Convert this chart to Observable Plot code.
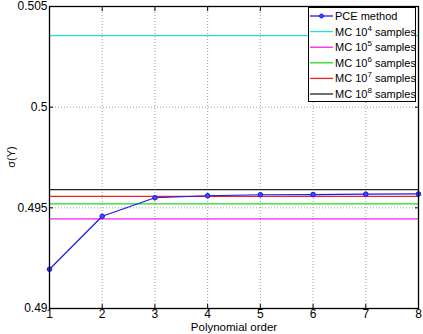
<!DOCTYPE html>
<html><head><meta charset="utf-8">
<script src="https://cdn.jsdelivr.net/npm/d3@7"></script>
<script src="https://cdn.jsdelivr.net/npm/@observablehq/plot@0.6"></script>
<style>body{margin:0;background:#fff;} svg{font-family:"Liberation Sans",Arial,sans-serif;}</style>
</head><body><div id="chart"></div>
<script>
const orders = [1, 2, 3, 4, 5, 6, 7, 8];
const pce = [0.49195, 0.49458, 0.49550, 0.49560, 0.49565, 0.49566, 0.49568, 0.49569];
const mcExponents = [4, 5, 6, 7, 8];
const mcValues = [0.50355, 0.49445, 0.49520, 0.49557, 0.49590];
const mcColors = ["#22e0e0", "#ee22ee", "#22dd22", "#ee2222", "#222222"];
const yTicks = [0.49, 0.495, 0.5, 0.505];
const yTickLabels = ["0.49", "0.495", "0.5", "0.505"];
const xTicks = [1, 2, 3, 4, 5, 6, 7, 8];

const pceData = orders.map((o, i) => ({order: o, sigma: pce[i]}));
const mcData = mcExponents.map((e, i) => ({exp: e, sigma: mcValues[i], color: mcColors[i]}));
const mcLines = mcData.flatMap(d => [{...d, order: orders[0]}, {...d, order: orders[orders.length - 1]}]);

const plot = Plot.plot({
  width: 423, height: 334,
  marginLeft: 49, marginRight: 5, marginTop: 6, marginBottom: 26,
  style: {fontSize: "11px", fontFamily: "Liberation Sans, Arial, sans-serif", color: "#000", background: "#fff"},
  x: {domain: [1, 8], ticks: xTicks},
  y: {domain: [0.49, 0.505], ticks: yTicks},
  marks: [
    Plot.gridX(xTicks, {stroke: "#888", strokeOpacity: 1, strokeDasharray: "1,2", strokeWidth: 0.8}),
    Plot.gridY(yTicks, {stroke: "#888", strokeOpacity: 1, strokeDasharray: "1,2", strokeWidth: 0.8}),
    Plot.line(mcLines, {x: "order", y: "sigma", z: "exp", stroke: "color", strokeWidth: 1.3}),
    Plot.line(pceData, {x: "order", y: "sigma", stroke: "#1a1aee", strokeWidth: 1.2}),
    Plot.dot(pceData, {x: "order", y: "sigma", r: 2.3, stroke: "#1a1aee", fill: "#4444ff", strokeWidth: 1}),
    Plot.axisX(xTicks, {anchor: "bottom", tickSize: -4, tickPadding: 5, tickFormat: d => String(d), label: null, fontSize: 12}),
    Plot.axisX(xTicks, {anchor: "top", tickSize: -4, text: null, label: null}),
    Plot.axisY(yTicks, {anchor: "left", tickSize: -4, tickPadding: 6, tickFormat: (d) => yTickLabels[yTicks.indexOf(d)], label: null, fontSize: 12}),
    Plot.axisY(yTicks, {anchor: "right", tickSize: -4, text: null, label: null}),
    Plot.frame({stroke: "#000", strokeWidth: 1.3})
  ]
});
document.getElementById("chart").appendChild(plot);

const svg = d3.select(plot);
svg.append("text").attr("x", 234).attr("y", 331).attr("text-anchor", "middle")
  .attr("font-size", 11.5).text("Polynomial order");
svg.append("text").attr("transform", "translate(15,157) rotate(-90)").attr("text-anchor", "middle")
  .attr("font-size", 11).text("σ(Y)");

// legend
const lg = svg.append("g").attr("text-anchor", "start");
lg.append("rect").attr("x", 308.5).attr("y", 7.5).attr("width", 107).attr("height", 94)
  .attr("fill", "#fff").attr("stroke", "#000").attr("stroke-width", 1);
const entries = [{label: "PCE method", color: "#1a1aee", marker: true}]
  .concat(mcData.map(d => ({exp: d.exp, color: d.color})));
entries.forEach((e, i) => {
  const y = 16 + i * 15.6;
  lg.append("line").attr("x1", 310).attr("x2", 333).attr("y1", y).attr("y2", y)
    .attr("stroke", e.color).attr("stroke-width", 1.3);
  if (e.marker) lg.append("circle").attr("cx", 321.5).attr("cy", y).attr("r", 2)
    .attr("fill", "#4444ff").attr("stroke", e.color);
  const t = lg.append("text").attr("x", 335).attr("y", y + 4).attr("font-size", 11).attr("text-anchor", "start");
  if (e.marker) t.text(e.label);
  else {
    t.append("tspan").text("MC 10");
    t.append("tspan").attr("dy", -5).attr("font-size", 8).text(String(e.exp));
    t.append("tspan").attr("dy", 5).text(" samples");
  }
});
</script></body></html>
